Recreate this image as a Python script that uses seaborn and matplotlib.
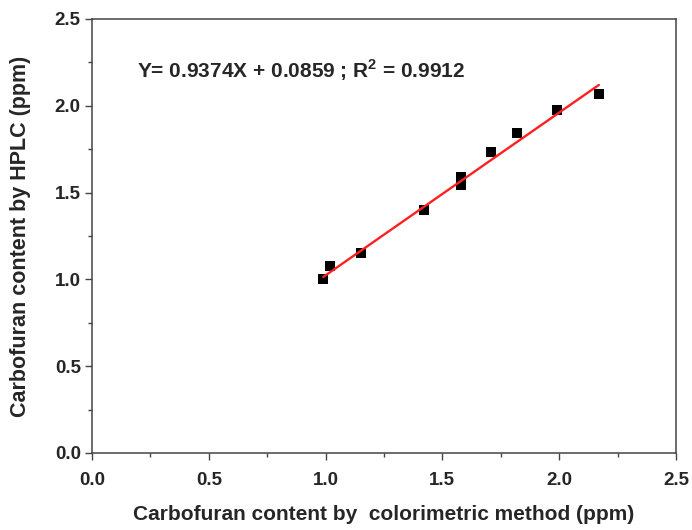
import numpy as np
import pandas as pd
import matplotlib
matplotlib.use("Agg")
import matplotlib.pyplot as plt
import seaborn as sns
from matplotlib.ticker import MultipleLocator

# Data
colorimetric = [0.99, 1.02, 1.15, 1.42, 1.58, 1.58, 1.71, 1.82, 1.99, 2.17]
hplc = [1.00, 1.075, 1.15, 1.40, 1.59, 1.545, 1.735, 1.845, 1.975, 2.07]
slope = 0.9374
intercept = 0.0859
r2 = 0.9912
x_ticks = [0.0, 0.5, 1.0, 1.5, 2.0, 2.5]
y_ticks = [0.0, 0.5, 1.0, 1.5, 2.0, 2.5]

sns.set_style("ticks")
plt.rcParams['font.family'] = ['Liberation Sans', 'DejaVu Sans']
plt.rcParams['mathtext.fontset'] = 'custom'
plt.rcParams['mathtext.rm'] = 'Liberation Sans'
plt.rcParams['mathtext.bf'] = 'Liberation Sans:bold'

df = pd.DataFrame({"x": colorimetric, "y": hplc})

fig = plt.figure(figsize=(6.92, 5.30), dpi=100)
ax = fig.add_axes([0.1329, 0.1453, 0.8439, 0.8189])

sns.scatterplot(data=df, x="x", y="y", marker="s", s=58, color="black",
                edgecolor="black", linewidth=0, ax=ax, zorder=2)

fit_x = np.array([min(colorimetric), max(colorimetric)])
fit_df = pd.DataFrame({"x": fit_x, "y": slope * fit_x + intercept})
sns.lineplot(data=fit_df, x="x", y="y", color="#ff2020", linewidth=1.7, ax=ax, zorder=3)

ax.set_xlim(0, 2.5)
ax.set_ylim(0, 2.5)
ax.set_xticks(x_ticks)
ax.set_yticks(y_ticks)
ax.set_xticklabels([f"{t:.1f}" for t in x_ticks], fontweight='bold', fontsize=13.5)
ax.set_yticklabels([f"{t:.1f}" for t in y_ticks], fontweight='bold', fontsize=13.5)
ax.xaxis.set_minor_locator(MultipleLocator(0.25))
ax.yaxis.set_minor_locator(MultipleLocator(0.25))
ax.tick_params(which='major', direction='out', length=5, width=1.0, color='#444444')
ax.tick_params(axis='x', which='major', pad=9)
ax.tick_params(axis='y', which='major', pad=3)
ax.tick_params(which='minor', direction='out', length=3, width=1.0, color='#444444')
for sp in ax.spines.values():
    sp.set_visible(True)
    sp.set_linewidth(1.1)
    sp.set_color('#444444')

ax.set_xlabel("Carbofuran content by  colorimetric method (ppm)", fontweight='bold', fontsize=15, labelpad=11)
ax.set_ylabel("Carbofuran content by HPLC (ppm)", fontweight='bold', fontsize=15.5, labelpad=17)

ax.text(0.193, 2.206,
        f"Y= {slope}X + {intercept} ; R$^{{\\mathbf{{2}}}}$ = {r2}",
        fontsize=15, fontweight='bold', va='center', ha='left')

fig.savefig("out.png", dpi=100)
